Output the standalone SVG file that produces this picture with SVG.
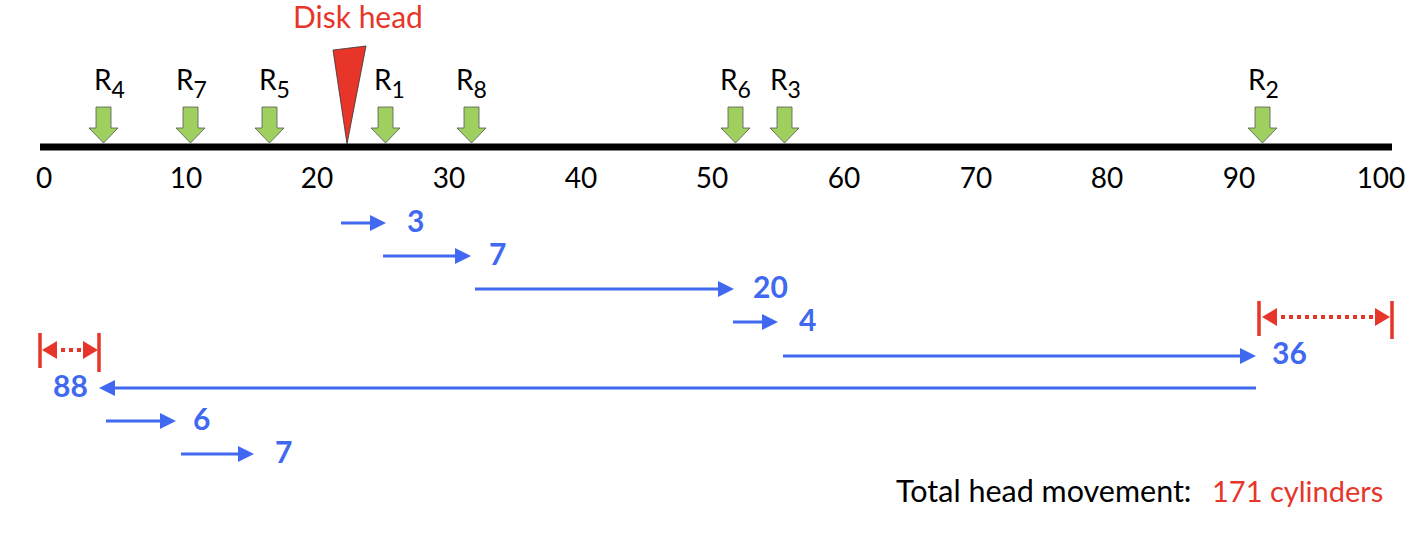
<svg xmlns="http://www.w3.org/2000/svg" width="1422" height="540" viewBox="0 0 1422 540">
<defs>
<style>
text{font-family:Lato,"Liberation Sans",sans-serif;}
.ax{font-size:28px;fill:#000;text-anchor:middle;}
.rl{font-size:28px;fill:#000;}
.sub{font-size:23px;}
.bl{font-size:30px;fill:#4068F0;font-weight:bold;}
.req{fill:#9FCF5F;stroke:#555;stroke-width:0.8;}
.mv{stroke:#4068F0;stroke-width:3;fill:none;marker-end:url(#ba);}
.dim{stroke:#E8352A;stroke-width:4;stroke-dasharray:4 4;fill:none;marker-start:url(#ra);marker-end:url(#ra);}
.bar{stroke:#E8352A;stroke-width:3.5;}
</style>
<marker id="ba" markerUnits="userSpaceOnUse" markerWidth="16" markerHeight="16" refX="4" refY="8" orient="auto"><path d="M0,0 L16,8 L0,16 Z" fill="#4068F0"/></marker>
<marker id="ra" markerUnits="userSpaceOnUse" markerWidth="16" markerHeight="18" refX="4" refY="9" orient="auto-start-reverse"><path d="M0,0 L15,9 L0,18 Z" fill="#E8352A"/></marker>
</defs>
<rect width="1422" height="540" fill="#fff"/>

<g id="axis">
<rect x="40" y="143.5" width="1352" height="7" fill="#000"/>
<text class="ax" x="44" y="188">0</text>
<text class="ax" x="186" y="188">10</text>
<text class="ax" x="317" y="188">20</text>
<text class="ax" x="449" y="188">30</text>
<text class="ax" x="581" y="188">40</text>
<text class="ax" x="712" y="188">50</text>
<text class="ax" x="844" y="188">60</text>
<text class="ax" x="976" y="188">70</text>
<text class="ax" x="1107" y="188">80</text>
<text class="ax" x="1239" y="188">90</text>
<text class="ax" x="1381" y="188">100</text>
</g>

<g id="disk-head">
<polygon points="333,50 366,46 347,144" fill="#E8352A" stroke="#333" stroke-width="0.8"/>
<text x="293" y="28" style="font-size:30px;fill:#E8352A">Disk head</text>
</g>

<g id="R4"><path class="req" d="M96,107 H111 V128 H118 L103.5,143 L89,128 H96 Z"/><text class="rl" x="94" y="90">R<tspan class="sub" dy="8">4</tspan></text></g>
<g id="R7"><path class="req" d="M183,107 H198 V128 H205 L190.5,143 L176,128 H183 Z"/><text class="rl" x="176" y="90">R<tspan class="sub" dy="8">7</tspan></text></g>
<g id="R5"><path class="req" d="M262,107 H277 V128 H284 L269.5,143 L255,128 H262 Z"/><text class="rl" x="259" y="90">R<tspan class="sub" dy="8">5</tspan></text></g>
<g id="R1"><path class="req" d="M378,107 H393 V128 H400 L385.5,143 L371,128 H378 Z"/><text class="rl" x="374" y="90">R<tspan class="sub" dy="8">1</tspan></text></g>
<g id="R8"><path class="req" d="M464,107 H479 V128 H486 L471.5,143 L457,128 H464 Z"/><text class="rl" x="456" y="90">R<tspan class="sub" dy="8">8</tspan></text></g>
<g id="R6"><path class="req" d="M728,107 H743 V128 H750 L735.5,143 L721,128 H728 Z"/><text class="rl" x="720" y="90">R<tspan class="sub" dy="8">6</tspan></text></g>
<g id="R3"><path class="req" d="M777,107 H792 V128 H799 L784.5,143 L770,128 H777 Z"/><text class="rl" x="770" y="90">R<tspan class="sub" dy="8">3</tspan></text></g>
<g id="R2"><path class="req" d="M1255,107 H1270 V128 H1277 L1262.5,143 L1248,128 H1255 Z"/><text class="rl" x="1248" y="90">R<tspan class="sub" dy="8">2</tspan></text></g>

<g id="connectors">
<line class="mv" x1="341" y1="223" x2="374" y2="223"/>
<line class="mv" x1="383" y1="256" x2="459" y2="256"/>
<line class="mv" x1="475" y1="289" x2="722" y2="289"/>
<line class="mv" x1="733" y1="322" x2="766" y2="322"/>
<line class="mv" x1="783" y1="356" x2="1244" y2="356"/>
<line class="mv" x1="1256" y1="388" x2="111" y2="388"/>
<line class="mv" x1="106" y1="421" x2="164" y2="421"/>
<line class="mv" x1="181" y1="454" x2="242" y2="454"/>
<line class="dim" x1="53" y1="350" x2="87" y2="350"/>
<line class="bar" x1="40" y1="333" x2="40" y2="368"/>
<line class="bar" x1="99" y1="333" x2="99" y2="372"/>
<line class="dim" x1="1273" y1="317" x2="1379" y2="317"/>
<line class="bar" x1="1259" y1="301" x2="1259" y2="336"/>
<line class="bar" x1="1392" y1="301" x2="1392" y2="339"/>
</g>

<g id="labels">
<text class="bl" x="407" y="232">3</text>
<text class="bl" x="489" y="265">7</text>
<text class="bl" x="753" y="298">20</text>
<text class="bl" x="799" y="331">4</text>
<text class="bl" x="1272" y="364">36</text>
<text class="bl" x="53" y="397">88</text>
<text class="bl" x="193" y="430">6</text>
<text class="bl" x="275" y="463">7</text>
</g>

<g id="total">
<text x="896" y="502" style="font-size:30.5px;fill:#000">Total head movement:</text>
<text x="1212" y="502" style="font-size:29px;fill:#E8352A">171 cylinders</text>
</g>
</svg>
